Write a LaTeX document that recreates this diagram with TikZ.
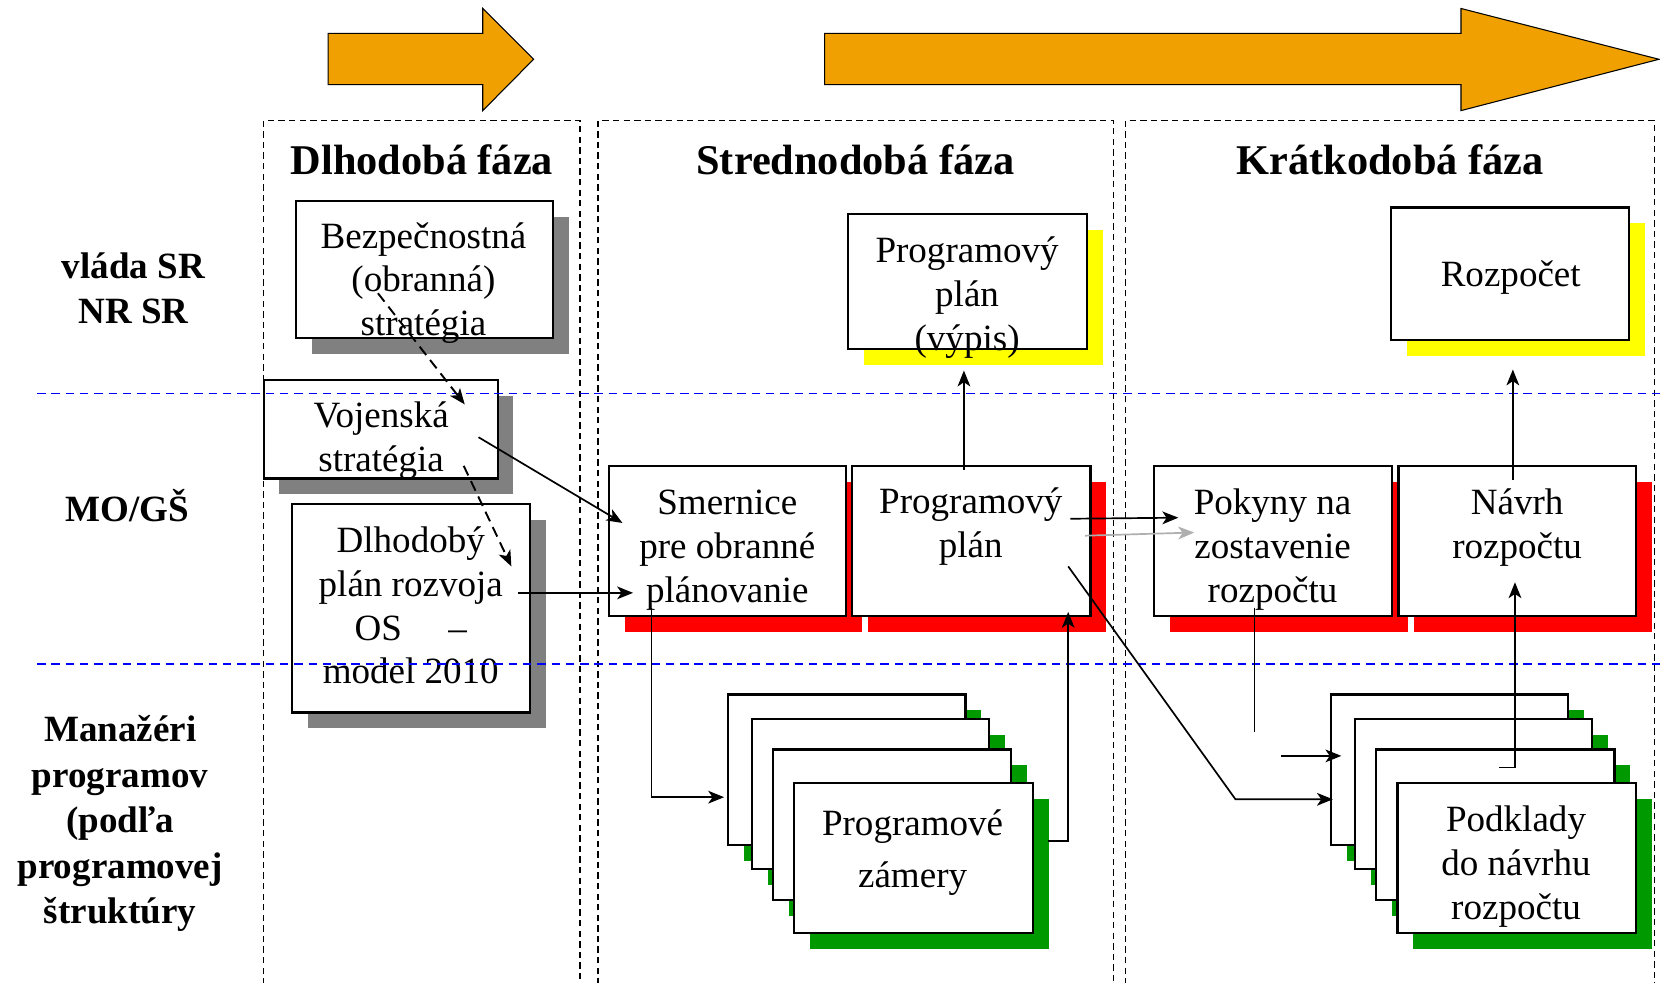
\documentclass[tikz,border=0pt]{standalone}
\usepackage{fontspec}
\setmainfont{Liberation Serif}
\usetikzlibrary{arrows.meta}
\definecolor{orng}{RGB}{240,160,0}
\definecolor{shgrey}{RGB}{128,128,128}
\definecolor{shred}{RGB}{255,0,0}
\definecolor{shyel}{RGB}{255,255,0}
\definecolor{shgreen}{RGB}{0,153,0}
\definecolor{lgrey}{RGB}{175,175,175}
\definecolor{lineblue}{RGB}{0,0,255}
\tikzset{
  frame/.style={draw=black, fill=white, line width=2pt, inner sep=0pt, outer sep=0pt},
  btxt/.style={font=\fontsize{35}{41.5}\selectfont, align=center, inner sep=0pt},
  hdr/.style={font=\bfseries\fontsize{40}{48}\selectfont, inner sep=0pt},
  lbl/.style={font=\bfseries\fontsize{35}{43}\selectfont, align=center, inner sep=0pt},
  oarrow/.style={fill=orng, draw=black, line width=1pt},
  coldash/.style={draw=black, line width=1.4pt, dash pattern=on 6pt off 4pt},
  bluedash/.style={draw=lineblue, line width=1.5pt, dash pattern=on 8pt off 5.5pt},
  arr/.style={draw=black, line width=1.6pt, -{Stealth[length=15pt,width=12pt,inset=4pt]}},
  plain/.style={draw=black, line width=1.6pt},
  darr/.style={arr, line width=1.8pt, dash pattern=on 10pt off 6pt},
  garr/.style={draw=lgrey, line width=1.6pt, -{Stealth[length=15pt,width=12pt,inset=4pt]}},
}
\newcommand\shbox[6]{%
  \fill[#6] (#2+15,#3+15) rectangle (#4+15,#5+15);
  \node[frame, minimum width={#4pt-#2pt}, minimum height={#5pt-#3pt}] (#1) at ({(#2+#4)/2},{(#3+#5)/2}) {};
}
\begin{document}
\begin{tikzpicture}[x=1pt,y=-1pt]
\useasboundingbox[fill=white] (0,0) rectangle (1568,928);

% orange phase arrows
\draw[oarrow] (310,31.5) -- (456,31.5) -- (456,8) -- (504,56) -- (456,104.5) -- (456,80) -- (310,80) -- cycle;
\draw[oarrow] (779,31.5) -- (1380,31.5) -- (1380,8) -- (1567,56) -- (1380,104.5) -- (1380,80) -- (779,80) -- cycle;

% phase columns
\draw[coldash] (249,930) -- (249,114) -- (548,114) -- (548,930);
\draw[coldash] (565,930) -- (565,114) -- (1052,114) -- (1052,930);
\draw[coldash] (1063,930) -- (1063,114) -- (1563,114) -- (1563,930);

% headers
\node[hdr] (h1) at (398.5,151) {Dlhodobá fáza};
\node[hdr] (h2) at (808,151) {Strednodobá fáza};
\node[hdr] (h3) at (1313,151) {Krátkodobá fáza};

% row labels
\node[lbl] (l1) at (126,275.5) {\strut vláda SR\\\strut NR SR};
\node[lbl] (l2) at (120,478) {MO/GŠ};
\node[lbl] (l3) at (113.5,778) {\strut Manažéri\\\strut programov\\\strut (podľa\\\strut programovej\\\strut štruktúry};

% boxes
\shbox{bez}{280}{190}{522}{319}{shgrey}
\shbox{voj}{249}{359}{470}{452}{shgrey}
\shbox{dlh}{276}{476}{501}{673}{shgrey}
\shbox{vyp}{801}{202}{1027}{330}{shyel}
\shbox{roz}{1314}{196}{1539}{321}{shyel}
\shbox{sme}{575}{440}{799}{582}{shred}
\shbox{prg}{805}{440}{1030}{582}{shred}
\shbox{pok}{1090}{440}{1315}{582}{shred}
\shbox{nav}{1321}{440}{1545}{582}{shred}
\shbox{zam1}{688}{656}{912}{798}{shgreen}
\shbox{zam2}{710}{679}{934}{821}{shgreen}
\shbox{zam3}{730}{708}{955}{850}{shgreen}
\shbox{zam4}{750}{740}{976}{881}{shgreen}
\shbox{pod1}{1257}{656}{1481}{798}{shgreen}
\shbox{pod2}{1280}{679}{1504}{821}{shgreen}
\shbox{pod3}{1300}{708}{1525}{850}{shgreen}
\shbox{pod4}{1320}{740}{1545}{881}{shgreen}

% box texts
\node[btxt] (bez-t) at (400,267.5) {\strut Bezpečnostná\\\strut (obranná)\\\strut stratégia};
\node[btxt] (voj-t) at (360,416) {\strut Vojenská\\\strut stratégia};
\node[btxt] (dlh-t) at (388,575.5) {\strut Dlhodobý\\\strut plán rozvoja\\\strut OS\hspace{44pt}–\\\strut model 2010};
\node[btxt] (vyp-t) at (913.5,281.5) {\strut Programový\\\strut plán\\\strut (výpis)};
\node[btxt] (roz-t) at (1427,262) {Rozpočet};
\node[btxt] (sme-t) at (687,519) {\strut Smernice\\\strut pre obranné\\\strut plánovanie};
\node[btxt] (prg-t) at (917,497.5) {\strut Programový\\\strut plán};
\node[btxt] (pok-t) at (1202,519) {\strut Pokyny na\\\strut zostavenie\\\strut rozpočtu};
\node[btxt] (nav-t) at (1433,498.5) {\strut Návrh\\\strut rozpočtu};
\node[btxt, font=\fontsize{35}{49}\selectfont] (zam-t) at (862,804) {\strut Programové\\\strut zámery};
\node[btxt] (pod-t) at (1432,818.5) {\strut Podklady\\\strut do návrhu\\\strut rozpočtu};

% row separators
\draw[bluedash] (35,371.5) -- (1568,371.5);
\draw[bluedash] (35,627) -- (1568,627);

% connectors
\coordinate (c1s) at (357,277); \coordinate (c1e) at (439,382);
\draw[darr] (c1s) -- (c1e);
\coordinate (c2s) at (438,440); \coordinate (c2e) at (483,535);
\draw[darr] (c2s) -- (c2e);
\coordinate (c3s) at (452,413); \coordinate (c3e) at (588,494);
\draw[arr] (c3s) -- (c3e);
\coordinate (c4s) at (489,560); \coordinate (c4e) at (598,560);
\draw[arr] (c4s) -- (c4e);
\coordinate (c5s) at (615.5,574); \coordinate (c5e) at (684,753);
\draw[arr] (c5s) |- (c5e);
\coordinate (c6s) at (990,794.5); \coordinate (c6e) at (1009,578);
\draw[arr] (c6s) -| (c6e);
\coordinate (c7s) at (910.5,444); \coordinate (c7e) at (910.5,350);
\draw[arr] (c7s) -- (c7e);
\coordinate (c8s) at (1011,490); \coordinate (c8e) at (1113,489);
\draw[arr] (c8s) -- (c8e);
\coordinate (c9s) at (1025,506); \coordinate (c9e) at (1128,503);
\draw[garr] (c9s) -- (c9e);
\coordinate (c10s) at (1009,535); \coordinate (c10m) at (1167,755); \coordinate (c10e) at (1259,755);
\draw[arr] (c10s) -- (c10m) -- (c10e);
\coordinate (c11s) at (1185,574); \coordinate (c11e) at (1185,691);
\draw[plain] (c11s) -- (c11e);
\coordinate (c12s) at (1210,714); \coordinate (c12e) at (1267,714);
\draw[arr] (c12s) -- (c12e);
\coordinate (c13s) at (1416,725); \coordinate (c13e) at (1431,550);
\draw[arr] (c13s) -| (c13e);
\coordinate (c14s) at (1429,453); \coordinate (c14e) at (1429,349);
\draw[arr] (c14s) -- (c14e);
\end{tikzpicture}
\end{document}
